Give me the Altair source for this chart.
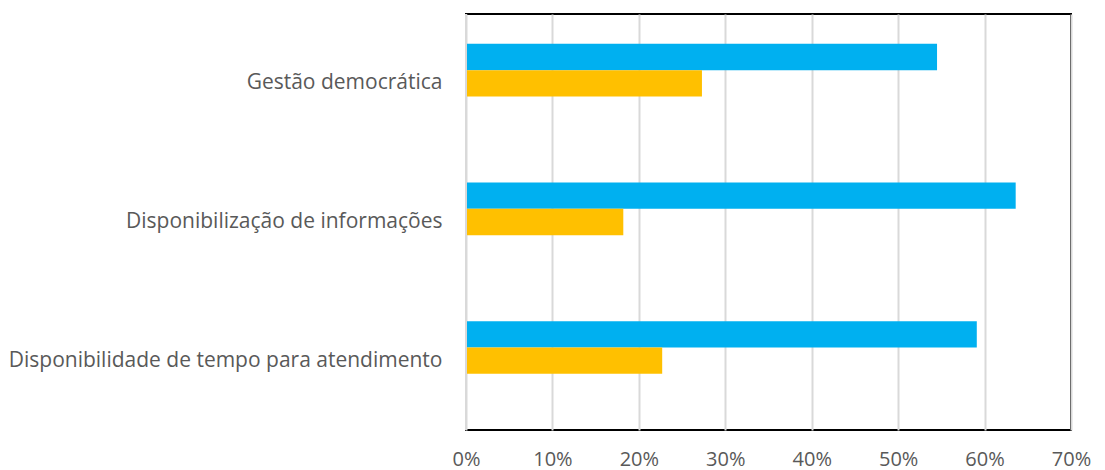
import altair as alt
import pandas as pd

categories = ["Gestão democrática", "Disponibilização de informações", "Disponibilidade de tempo para atendimento"]
series_names = ["Série 1", "Série 2", "Série 3"]
serie1 = [0.545, 0.636, 0.591]
serie2 = [0.273, 0.182, 0.227]
tick_values = [0, 0.1, 0.2, 0.3, 0.4, 0.5, 0.6, 0.7]

rows = []
for c, a, b in zip(categories, serie1, serie2):
    rows.append({"cat": c, "serie": series_names[0], "valor": a})
    rows.append({"cat": c, "serie": series_names[1], "valor": b})
df = pd.DataFrame(rows)

FONT = "Open Sans"
TXT = "#595959"
W, H = 605, 416

bars = alt.Chart(df).mark_bar().encode(
    y=alt.Y("cat:N", sort=categories,
            scale=alt.Scale(paddingInner=0.43, paddingOuter=0.215),
            axis=alt.Axis(title=None, ticks=False, domain=False, labelPadding=24,
                          labelFontSize=21, labelColor=TXT, labelFont=FONT,
                          labelLimit=0, minExtent=457, maxExtent=457)),
    yOffset=alt.YOffset("serie:N",
                        scale=alt.Scale(domain=series_names, paddingInner=0, paddingOuter=0)),
    x=alt.X("valor:Q", scale=alt.Scale(domain=[0, 0.7], nice=False),
            axis=alt.Axis(title=None, format=".0%", values=tick_values, grid=True,
                          gridColor="#D9D9D9", gridWidth=2, ticks=False, domain=False,
                          labelFlush=False, labelPadding=19, labelFontSize=20,
                          labelColor=TXT, labelFont=FONT)),
    color=alt.Color("serie:N", scale=alt.Scale(domain=series_names,
                                               range=["#00B0F0", "#FFC000", "#A5A5A5"]),
                    legend=None),
)

left_line = alt.Chart(pd.DataFrame({"k": [0]})).mark_rule(color="#D9D9D9", strokeWidth=2).encode(
    x=alt.value(0), y=alt.value(0), y2=alt.value(H)
)

chart = alt.layer(bars, left_line).properties(
    width=W, height=H,
    padding={"left": 0, "top": 5, "right": 5, "bottom": 5},
).configure_view(stroke="black", strokeWidth=2)

chart.save("out.html", embed_options={"renderer": "svg", "actions": False})
